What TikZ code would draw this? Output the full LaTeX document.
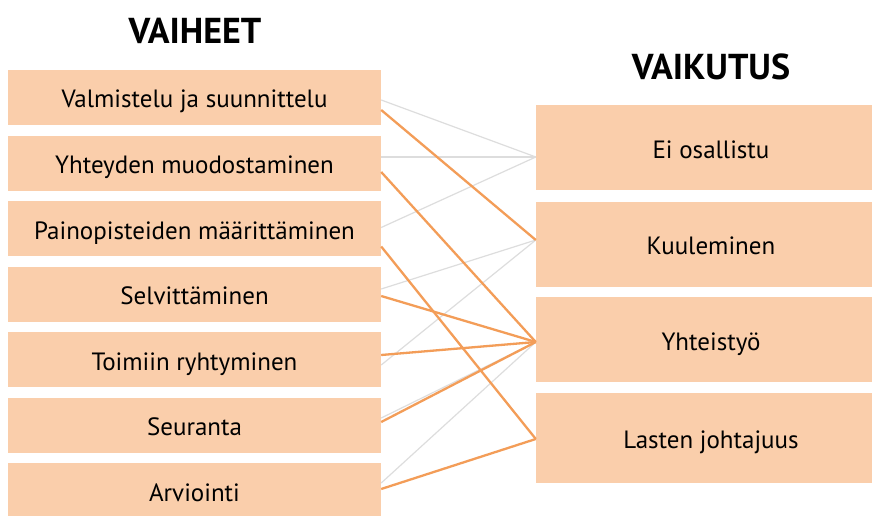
\documentclass[tikz,border=0pt]{standalone}
\usepackage{fontspec}
\setmainfont{PT Sans}
\definecolor{peach}{RGB}{250,206,171}
\definecolor{lineor}{RGB}{243,157,88}
\definecolor{linegr}{RGB}{221,221,221}
\tikzset{
  lbox/.style={fill=peach, draw=none, minimum width=373pt, minimum height=55pt, inner sep=0pt, text height=21pt, text depth=0pt, font=\fontsize{25}{28}\selectfont},
  rbox/.style={fill=peach, draw=none, minimum width=350pt, minimum height=85pt, inner sep=0pt, text height=21pt, text depth=0pt, font=\fontsize{25}{28}\selectfont},
  ttl/.style={font=\fontsize{36}{40}\selectfont\bfseries, inner sep=0pt},
  gl/.style={draw=linegr, line width=1.2pt},
  ol/.style={draw=lineor, line width=2.3pt},
}
\begin{document}
\begin{tikzpicture}[x=1pt,y=-1pt]
\useasboundingbox (0,0) rectangle (872,516);
\clip (0,0) rectangle (872,516);
\fill[white] (0,0) rectangle (872,516);
\node[ttl] (t1) at (195,31) {VAIHEET};
\node[ttl] (t2) at (711,67) {VAIKUTUS};
\node[lbox] (L1) at (194.5,97.5) {Valmistelu ja suunnittelu};
\node[lbox] (L2) at (194.5,163) {Yhteyden muodostaminen};
\node[lbox] (L3) at (194.5,228.5) {Painopisteiden määrittäminen};
\node[lbox] (L4) at (194.5,294) {Selvittäminen};
\node[lbox] (L5) at (194.5,359.5) {Toimiin ryhtyminen};
\node[lbox] (L6) at (194.5,425) {Seuranta};
\node[lbox] (L7) at (194.5,490.5) {Arviointi};
\node[rbox] (R1) at (711,147.5) {Ei osallistu};
\node[rbox] (R2) at (711,244) {Kuuleminen};
\node[rbox] (R3) at (711,339.5) {Yhteistyö};
\node[rbox, minimum height=90pt] (R4) at (711,438) {Lasten johtajuus};
% gray connectors
\draw[gl] ([yshift=-2.5pt]L1.east) -- ([yshift=-9.5pt]R1.west);
\draw[gl] ([yshift=6pt]L2.east) -- ([yshift=-9.5pt]R1.west);
\draw[gl] ([yshift=1pt]L3.east) -- ([yshift=-9.5pt]R1.west);
\draw[gl] ([yshift=5pt]L4.east) -- ([yshift=4pt]R2.west);
\draw[gl] ([yshift=-5.5pt]L5.east) -- ([yshift=4pt]R2.west);
\draw[gl] ([yshift=7pt]L6.east) -- ([yshift=-2.5pt]R3.west);
\draw[gl] ([yshift=7.5pt]L7.east) -- ([yshift=-2.5pt]R3.west);
% orange connectors
\draw[ol] ([yshift=-12.5pt]L1.east) -- ([yshift=4pt]R2.west);
\draw[ol] ([yshift=-9pt]L2.east) -- ([yshift=-2.5pt]R3.west);
\draw[ol] ([yshift=-18pt]L3.east) -- ([yshift=-1pt]R4.west);
\draw[ol] ([yshift=-2pt]L4.east) -- ([yshift=-2.5pt]R3.west);
\draw[ol] ([yshift=4.5pt]L5.east) -- ([yshift=-2.5pt]R3.west);
\draw[ol] ([yshift=3pt]L6.east) -- ([yshift=-2.5pt]R3.west);
\draw[ol] ([yshift=1.5pt]L7.east) -- ([yshift=-1pt]R4.west);
\end{tikzpicture}
\end{document}
